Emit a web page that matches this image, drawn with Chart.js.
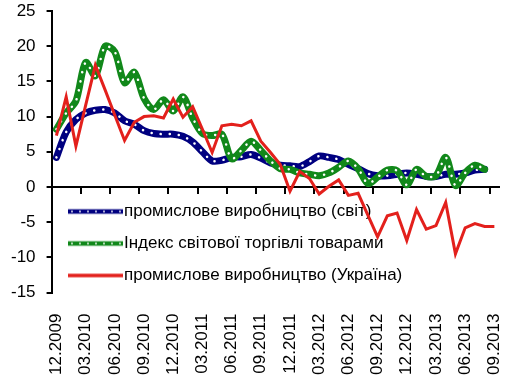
<!DOCTYPE html>
<html>
<head>
<meta charset="utf-8">
<script src="https://cdn.jsdelivr.net/npm/chart.js@4/dist/chart.umd.min.js"></script>
<style>
  html, body { margin: 0; padding: 0; background: #fff; }
  #wrap { width: 528px; height: 381px; position: relative; }
</style>
</head>
<body>
<div id="wrap"><canvas id="c"></canvas></div>
<script>
// ---- data ----
const categories = [
  '12.2009',
  '01.2010','02.2010','03.2010','04.2010','05.2010','06.2010','07.2010','08.2010','09.2010','10.2010','11.2010','12.2010',
  '01.2011','02.2011','03.2011','04.2011','05.2011','06.2011','07.2011','08.2011','09.2011','10.2011','11.2011','12.2011',
  '01.2012','02.2012','03.2012','04.2012','05.2012','06.2012','07.2012','08.2012','09.2012','10.2012','11.2012','12.2012',
  '01.2013','02.2013','03.2013','04.2013','05.2013','06.2013','07.2013','08.2013','09.2013'
];
const worldProduction = [4.2, 7.8, 9.6, 10.5, 10.9, 11.0, 10.5, 9.4, 8.9, 8.0, 7.6, 7.5, 7.5, 7.2, 6.4, 5.0,
  3.7, 3.8, 4.2, 4.3, 4.6, 4.1, 3.4, 3.1, 3.0, 2.9, 3.6, 4.4, 4.2, 3.9, 3.2, 2.6, 1.9, 1.6, 1.6, 1.8,
  2.0, 1.8, 1.5, 1.5, 1.8, 1.8, 2.0, 2.4, 2.5, null];
const worldTrade = [8.2, 10.5, 12.2, 17.7, 15.8, 20.0, 19.2, 14.8, 16.3, 12.6, 11.0, 12.4, 10.8, 12.8, 9.8, 7.6,
  7.3, 7.5, 4.0, 5.2, 6.5, 5.2, 3.7, 2.6, 2.5, 2.0, 1.8, 1.6, 2.0, 2.8, 3.7, 2.6, 0.5, 1.4, 2.4, 2.3,
  0.3, 2.5, 1.5, 1.6, 4.2, 0.2, 2.0, 3.1, 2.5, null];
const ukraineProduction = [7.3, 12.8, 5.8, 11.6, 17.3, 13.8, 10.2, 6.6, 9.2, 10.0, 10.1, 9.8, 12.5, 9.9, 11.4, 8.2,
  4.9, 8.7, 8.9, 8.7, 9.4, 6.5, 4.9, 3.2, -0.6, 2.2, 1.2, -1.0, 0.1, 1.0, -1.2, -0.9, -4.0, -7.1, -4.1, -3.7,
  -7.6, -3.2, -6.0, -5.5, -2.2, -9.5, -5.8, -5.2, -5.6, -5.6];
const seriesNames = ['промислове виробництво (світ)', 'Індекс світової торгівлі товарами', 'промислове виробництво (Україна)'];
const yTicks = [-15, -10, -5, 0, 5, 10, 15, 20, 25];

// ---- styles ----
const FONT = "'Liberation Sans', Arial, sans-serif";
const BLUE = '#000080';
const GREEN = '#11881a';
const RED = '#e3201c';

function legendImg(color, lw, dots) {
  const c = document.createElement('canvas');
  c.width = 55; c.height = 8;
  const g = c.getContext('2d');
  g.strokeStyle = color; g.lineWidth = lw;
  g.beginPath(); g.moveTo(0, 4); g.lineTo(55, 4); g.stroke();
  if (dots) {
    g.fillStyle = '#fff';
    for (let x = 4; x < 55; x += 8) { g.beginPath(); g.arc(x, 4, 0.9, 0, Math.PI * 2); g.fill(); }
  }
  return c;
}
const legendImgs = [legendImg(BLUE, 4.5, true), legendImg(GREEN, 4.5, true), legendImg(RED, 3.5, false)];

const legendPlacer = {
  id: 'legendPlacer',
  afterLayout(chart) {
    const lg = chart.legend;
    if (!lg) return;
    lg.left = 60.5;
    lg.right = lg.left + lg.width;
    lg.top = 188;
    lg.bottom = chart.height;
  }
};

const dotLine = (data, order, tension) => ({
  label: '_dots', data, borderColor: '#ffffff', borderWidth: 2.5, borderDash: [0.1, 9],
  borderCapStyle: 'round', pointRadius: 0, tension, order, fill: false
});

new Chart(document.getElementById('c'), {
  type: 'line',
  data: {
    labels: categories,
    datasets: [
      { label: seriesNames[0], data: worldProduction, borderColor: BLUE, backgroundColor: BLUE, borderWidth: 7,
        borderJoinStyle: 'round', borderCapStyle: 'round', pointRadius: 0, tension: 0.3, order: 6 },
      { label: seriesNames[1], data: worldTrade, borderColor: GREEN, backgroundColor: GREEN, borderWidth: 7,
        borderJoinStyle: 'round', borderCapStyle: 'round', pointRadius: 0, tension: 0.3, order: 4 },
      { label: seriesNames[2], data: ukraineProduction, borderColor: RED, backgroundColor: RED, borderWidth: 3,
        borderJoinStyle: 'miter', pointRadius: 0, tension: 0, order: 0 },
      dotLine(worldProduction, 5, 0.3),
      dotLine(worldTrade, 3, 0.3)
    ]
  },
  options: {
    responsive: true,
    maintainAspectRatio: false,
    animation: false,
    layout: { padding: { left: 0, top: 11, right: 21, bottom: -7 } },
    plugins: {
      tooltip: { enabled: false },
      legend: {
        position: 'chartArea',
        align: 'start',
        labels: {
          usePointStyle: true,
          pointStyleWidth: 40,
          padding: 15,
          color: '#000',
          font: { family: FONT, size: 17 },
          sort: (a, b) => a.datasetIndex - b.datasetIndex,
          generateLabels(chart) {
            const items = Chart.defaults.plugins.legend.labels.generateLabels(chart);
            return items.filter(it => it.datasetIndex < 3)
              .map(it => Object.assign(it, { pointStyle: legendImgs[it.datasetIndex] }));
          }
        }
      }
    },
    scales: {
      x: {
        type: 'category',
        position: 'bottom',
        offset: true,
        border: { display: false },
        grid: { display: false },
        ticks: {
          autoSkip: false, minRotation: 90, maxRotation: 90, padding: 13,
          color: '#000', font: { family: FONT, size: 17 },
          callback: (v, i) => (i % 3 === 0 ? categories[i] : '')
        }
      },
      x2: {
        type: 'category',
        axis: 'x',
        position: { y: 0 },
        offset: true,
        border: { display: true, color: '#000', width: 2 },
        grid: {
          display: true, drawOnChartArea: false, drawTicks: true, tickLength: 6, offset: true, lineWidth: 2,
          color: (ctx) => (ctx.index !== undefined && ctx.index % 3 === 0) ? '#000' : 'rgba(0,0,0,0)'
        },
        ticks: { display: false }
      },
      y: {
        min: -15, max: 25,
        border: { display: true, color: '#000', width: 2 },
        grid: { display: true, drawOnChartArea: false, drawTicks: true, tickLength: 5, color: '#000', lineWidth: 2 },
        afterBuildTicks: (s) => { s.ticks = yTicks.map(v => ({ value: v })); },
        afterFit: (s) => { s.paddingTop = 10; s.paddingBottom = 10; },
        ticks: { padding: 11, color: '#000', font: { family: FONT, size: 17 }, callback: (v) => String(v) }
      }
    }
  },
  plugins: [legendPlacer]
});
</script>
</body>
</html>
